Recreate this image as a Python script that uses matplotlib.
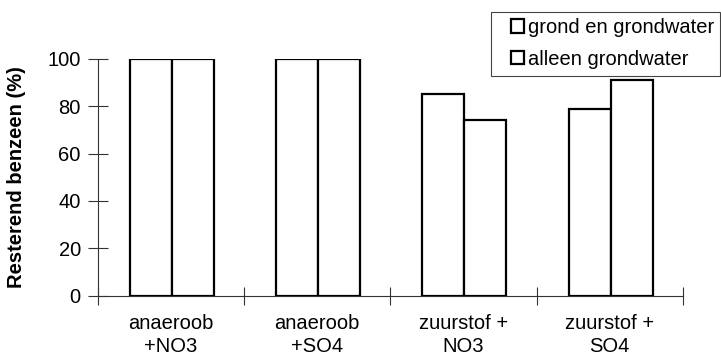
import matplotlib
matplotlib.use("Agg")
import matplotlib.pyplot as plt
from matplotlib.patches import Patch, Rectangle
import numpy as np

categories = ["anaeroob\n+NO3", "anaeroob\n+SO4", "zuurstof +\nNO3", "zuurstof +\nSO4"]
series_names = ["grond en grondwater", "alleen grondwater"]
grond_en_grondwater = [100, 100, 85, 79]
alleen_grondwater = [100, 100, 74, 91]
yticks = [0, 20, 40, 60, 80, 100]

plt.rcParams['font.family'] = ['Liberation Sans', 'DejaVu Sans']

W, H = 721, 360
fig = plt.figure(figsize=(W/100, H/100), dpi=100)
ax = fig.add_axes([97.5/W, 1-295.5/H, (683-97.5)/W, (295.5-59)/H])

n = len(categories)
centers = np.arange(n) + 0.5 + 0.007
w = 0.287
ax.bar(centers - w/2, grond_en_grondwater, width=w, facecolor='white', edgecolor='black', linewidth=1.6, zorder=3)
ax.bar(centers + w/2, alleen_grondwater, width=w, facecolor='white', edgecolor='black', linewidth=1.6, zorder=3)

ax.set_xlim(0, n)
ax.set_ylim(0, 100)
ax.set_xticks(np.arange(n + 1))
ax.set_xticklabels([])
ax.set_xticks(np.arange(n) + 0.5, minor=True)
ax.set_xticklabels(categories, minor=True, fontsize=14.5, linespacing=1.3)
ax.tick_params(axis='x', which='major', direction='inout', length=13, width=0.8, color='#333333')
ax.tick_params(axis='x', which='minor', length=0, pad=13)
ax.set_yticks(yticks)
ax.set_yticklabels([str(v) for v in yticks], fontsize=14.5)
ax.tick_params(axis='y', direction='inout', length=14, width=0.8, color='#333333', pad=5)

for s in ['top', 'right']:
    ax.spines[s].set_visible(False)
for s in ['left', 'bottom']:
    ax.spines[s].set_linewidth(0.8)
    ax.spines[s].set_color('#333333')

ax.set_ylabel("Resterend benzeen (%)", fontsize=14.5, fontweight='bold')
ax.yaxis.set_label_coords((26 - 97.5) / (683 - 97.5), 0.5)

# legend frame
fig.patches.append(Rectangle((491/W, 1-76/H), (720-491)/W, 64/H, transform=fig.transFigure,
                             facecolor='white', edgecolor='#444444', linewidth=0.8, zorder=0))

handles = [Patch(facecolor='white', edgecolor='black', linewidth=1.6) for _ in series_names]
leg = fig.legend(handles, series_names, loc='upper left', bbox_to_anchor=(507/W, 1-14/H),
                 bbox_transform=fig.transFigure, borderaxespad=0, fontsize=14.5,
                 handlelength=0.65, handleheight=0.65, handletextpad=0.2,
                 labelspacing=0.62, borderpad=0.2, frameon=False)

fig.savefig("out.png", dpi=100)
